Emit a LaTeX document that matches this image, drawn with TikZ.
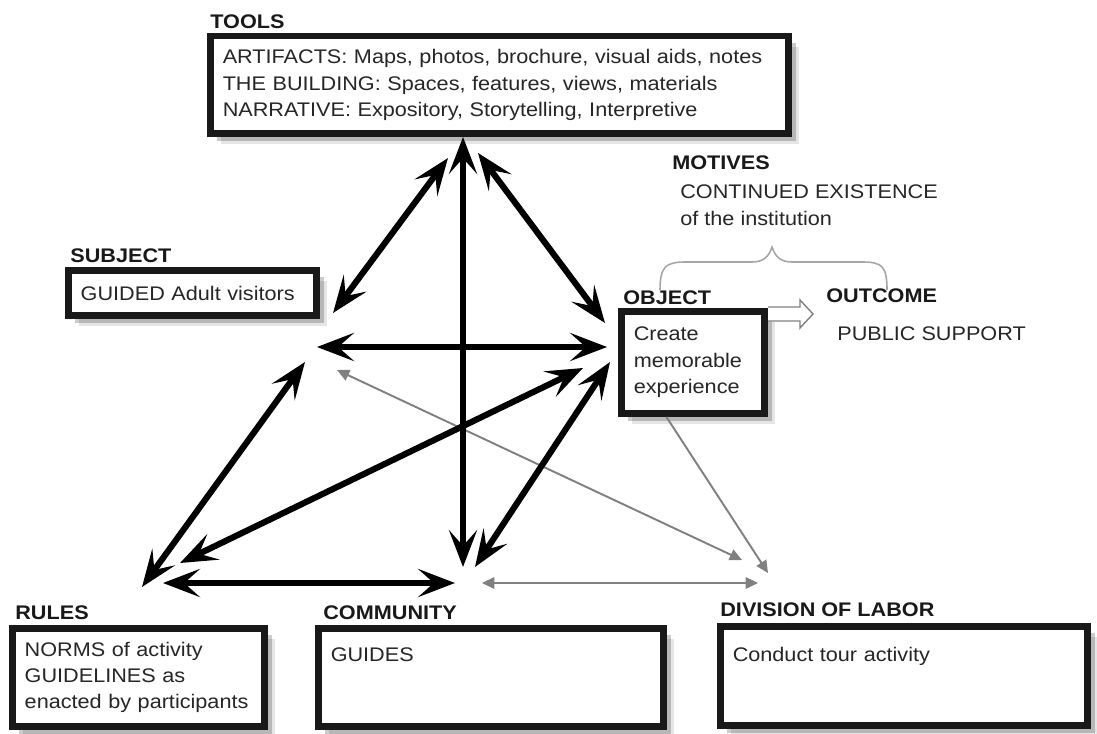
\documentclass[tikz,border=0pt]{standalone}
\usepackage{fontspec}
\setmainfont{Liberation Sans}[FakeStretch=1.1]
\usetikzlibrary{arrows.meta,shadows}

\newcommand{\diagfont}{\fontsize{11.2pt}{15pt}\selectfont}

\tikzset{
  bigtip/.tip={Stealth[length=21pt,width=16pt,inset=9pt]},
  smalltip/.tip={Triangle[length=7pt,width=6.5pt]},
  link/.style={draw=black, line width=3.5pt, bigtip-bigtip},
  glink/.style={draw=gray, line width=1.1pt, smalltip-smalltip},
  box/.style={draw=black!90, line width=3.7pt, fill=white, anchor=north west,
    align=left, inner xsep=0.25cm, inner ysep=0pt,
    drop shadow={shadow xshift=2pt, shadow yshift=-2pt, opacity=0.3, fill=black},
    drop shadow={shadow xshift=4pt, shadow yshift=-4pt, opacity=0.2, fill=black},
    drop shadow={shadow xshift=6pt, shadow yshift=-6pt, opacity=0.1, fill=black}},
  title/.style={anchor=base west, inner sep=0pt, font=\diagfont\bfseries, text=black!90},
  plain/.style={anchor=base west, inner sep=0pt, align=left},
}

\begin{document}
\begin{tikzpicture}[x=0.02cm, y=-0.02cm, font=\diagfont, text=black!85]
    \useasboundingbox (0, 0) rectangle (1097, 733);

    % end points of the connectors
    \coordinate (t-s) at (448, 158);
    \coordinate (t-c) at (463, 137);
    \coordinate (t-o) at (478, 153);
    \coordinate (s-t) at (333, 313);
    \coordinate (s-o) at (317, 347);
    \coordinate (s-r) at (305, 362);
    \coordinate (s-d) at (337, 370);
    \coordinate (o-t) at (605, 323);
    \coordinate (o-s) at (607, 347);
    \coordinate (o-r) at (583, 368);
    \coordinate (o-c) at (610, 362);
    \coordinate (r-s) at (142, 587);
    \coordinate (r-o) at (180, 563);
    \coordinate (r-c) at (163, 583);
    \coordinate (c-t) at (463, 567);
    \coordinate (c-o) at (475, 567);
    \coordinate (c-r) at (455, 583);
    \coordinate (c-d) at (482, 583);
    \coordinate (d-s) at (742, 560);
    \coordinate (d-o) at (768, 573);
    \coordinate (d-c) at (758, 583);

    \node [box, minimum width=11.57cm, minimum height=1.95cm, text width=11.07cm] (tools) at (207, 33)
      {ARTIFACTS: Maps, photos, brochure, visual aids, notes\\THE BUILDING: Spaces, features, views, materials\\NARRATIVE: Expository, Storytelling, Interpretive};
    \node [box, minimum width=4.97cm, minimum height=0.91cm, text width=4.47cm] (subject) at (65, 267) {GUIDED Adult visitors};
    \node [box, minimum width=2.87cm, minimum height=2.05cm, text width=2.37cm] (object) at (618, 308) {Create\\memorable\\experience};
    \node [box, minimum width=5.05cm, minimum height=1.97cm, text width=4.55cm] (rules) at (9, 625)
      {NORMS of activity\\GUIDELINES as\\enacted by participants};
    \node [box, text width=6.41cm, text height=0.667cm, text depth=1.303cm] (community) at (315, 625) {GUIDES};
    \node [box, text width=6.85cm, text height=0.707cm, text depth=1.283cm] (division) at (717, 623) {Conduct tour activity};

    \node [title] (tools-lbl) at (210, 29) {TOOLS};
    \node [title] (subject-lbl) at (70, 262) {SUBJECT};
    \node [title] (object-lbl) at (623, 304) {OBJECT};
    \node [title] (outcome-lbl) at (826, 302) {OUTCOME};
    \node [title] (motives-lbl) at (672, 170) {MOTIVES};
    \node [title] (rules-lbl) at (15, 619) {RULES};
    \node [title] (community-lbl) at (323, 619) {COMMUNITY};
    \node [title] (division-lbl) at (720, 616) {DIVISION OF LABOR};

    \node [plain] (motives) at (680, 225) {CONTINUED EXISTENCE\\of the institution};
    \node [plain] (outcome) at (837, 340) {PUBLIC SUPPORT};

    % brace under the motives
    \draw [gray!70, line width=0.9pt] (660, 290) .. controls (660, 266) and (666, 262) .. (686, 262) -- (752, 262)
      .. controls (764, 262) and (769, 256) .. (772, 247) .. controls (775, 256) and (780, 262) .. (792, 262)
      -- (862, 262) .. controls (882, 262) and (887, 266) .. (887, 290);

    % hollow arrow to the outcome
    \draw [gray, line width=0.8pt, fill=white] (768, 307) -- (800, 307) -- (800, 300) -- (813, 314)
      -- (800, 328) -- (800, 321) -- (768, 321);

    \draw [glink] (s-d) -- (d-s);
    \draw [glink] (c-d) -- (d-c);
    \draw [draw=gray, line width=1.1pt, -smalltip] (object.244) -- (d-o);

    \draw [link] (t-s) -- (s-t);
    \draw [link] (t-c) -- (c-t);
    \draw [link] (t-o) -- (o-t);
    \draw [link] (s-o) -- (o-s);
    \draw [link] (s-r) -- (r-s);
    \draw [link] (r-o) -- (o-r);
    \draw [link] (c-o) -- (o-c);
    \draw [link] (r-c) -- (c-r);
\end{tikzpicture}
\end{document}
